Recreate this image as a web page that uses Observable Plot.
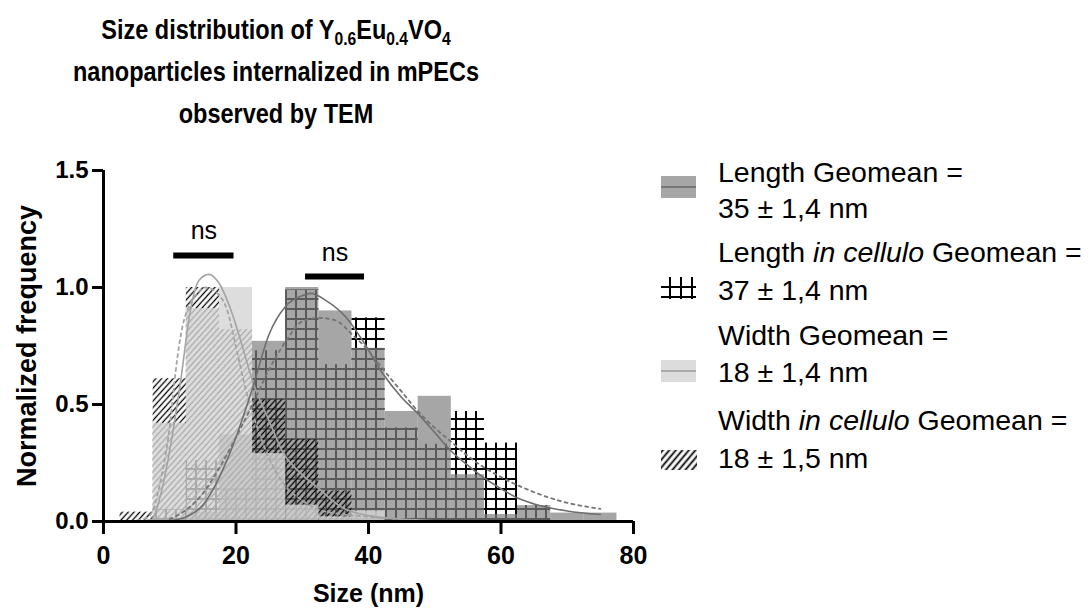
<!DOCTYPE html>
<html><head><meta charset="utf-8">
<script src="https://cdn.jsdelivr.net/npm/d3@7"></script>
<script src="https://cdn.jsdelivr.net/npm/@observablehq/plot@0.6"></script>
<style>
body{margin:0;background:#fff;font-family:"Liberation Sans",Arial,Helvetica,sans-serif;color:#000;}
#wrap{position:relative;width:1091px;height:614px;overflow:hidden;background:#fff;}
#title{position:absolute;left:0;top:9px;width:552px;text-align:center;font-weight:bold;font-size:27px;line-height:42px;transform:scaleX(0.87);transform-origin:276px 0;}
#title sub{font-size:18px;vertical-align:-6px;line-height:0;}
#chart{position:absolute;left:0;top:150px;width:660px;}
.leg{position:absolute;left:718px;font-size:28.5px;line-height:34px;white-space:nowrap;}
#legsw{position:absolute;left:655px;top:160px;}
</style></head><body>
<div id="wrap">
<div id="title">Size distribution of Y<sub>0.6</sub>Eu<sub>0.4</sub>VO<sub>4</sub><br>nanoparticles internalized in mPECs<br>observed by TEM</div>
<div id="chart"></div>
<div id="legend"></div>
<svg id="legsw" width="60" height="330">
  <defs>
    <pattern id="legHatch" patternUnits="userSpaceOnUse" width="5" height="5" patternTransform="rotate(40)"><line x1="2.5" y1="0" x2="2.5" y2="5" stroke="#000" stroke-width="1.8"/></pattern>
  </defs>
  <rect x="6" y="16" width="35" height="22" fill="#a6a6a6"/>
  <line x1="6" x2="41" y1="27" y2="27" stroke="#777" stroke-width="2"/>
  <g stroke="#000" stroke-width="2">
    <line x1="15" x2="15" y1="117" y2="139"/>
    <line x1="26" x2="26" y1="117" y2="139"/>
    <line x1="37" x2="37" y1="117" y2="139"/>
    <line x1="6" x2="41" y1="127" y2="127"/>
    <line x1="6" x2="41" y1="137" y2="137"/>
  </g>
  <rect x="6" y="200" width="35" height="22" fill="#dcdcdc"/>
  <line x1="6" x2="41" y1="211" y2="211" stroke="#aaa" stroke-width="2"/>
  <rect x="6" y="290" width="36" height="20" fill="url(#legHatch)"/>
</svg>
</div>
<script>
// ---- data ----
const sizeBins = [5,10,15,20,25,30,35,40,45,50,55,60,65,70,75];
const binWidth = 5;
const lengthFreq        = [0, 0, 0.04, 0.37, 0.77, 1.0, 0.90, 0.74, 0.47, 0.535, 0.20, 0.03, 0.068, 0.036, 0.036];
const lengthCelluloFreq = [0, 0.05, 0.26, 0.14, 0.73, 0.99, 0.67, 0.87, 0.40, 0.33, 0.47, 0.335, 0.068, 0, 0];
const widthFreq         = [0, 0.42, 0.91, 1.0, 0.29, 0.07, 0.02, 0.045, 0, 0, 0, 0, 0, 0, 0];
const widthCelluloFreq  = [0.04, 0.61, 1.0, 0.82, 0.52, 0.35, 0.13, 0, 0, 0, 0, 0, 0, 0, 0];

const lengthFitX = [10, 12.5, 15, 17.5, 20, 22.5, 25, 27.5, 30, 31.3, 33.6, 36.6, 39.1, 42.2, 45, 47.5, 50, 52.5, 55, 57.5, 60, 62.5, 65, 70, 75];
const lengthFitY = [0.003, 0.02, 0.07, 0.19, 0.36, 0.57, 0.80, 0.92, 0.965, 0.975, 0.944, 0.873, 0.774, 0.63, 0.53, 0.46, 0.38, 0.30, 0.24, 0.185, 0.14, 0.10, 0.075, 0.045, 0.03];
const lengthCelluloFitX = [10, 12.5, 15, 17.5, 20, 22.5, 25, 27.5, 30, 32.5, 35, 37.5, 40, 42.5, 45, 47.5, 50, 52.5, 55, 57.5, 60, 62.5, 65, 67.5, 70, 75];
const lengthCelluloFitY = [0.01, 0.05, 0.12, 0.23, 0.36, 0.50, 0.65, 0.77, 0.855, 0.87, 0.86, 0.80, 0.73, 0.64, 0.555, 0.47, 0.40, 0.34, 0.28, 0.23, 0.19, 0.155, 0.125, 0.10, 0.08, 0.054];
const widthFitX = [5, 7.3, 8.5, 10.1, 11.6, 13.1, 14.4, 15.9, 17.4, 19.4, 21, 22.5, 25, 27, 30, 32.1, 36, 40, 45, 50];
const widthFitY = [0, 0.01, 0.10, 0.32, 0.59, 0.90, 1.03, 1.056, 1.02, 0.89, 0.745, 0.60, 0.43, 0.30, 0.20, 0.15, 0.06, 0.025, 0.01, 0.003];
const widthCelluloFitX = [3, 5, 6.8, 8.8, 10.1, 10.9, 11.9, 12.9, 14, 15.4, 17, 18.7, 20.2, 21.5, 23, 25, 27.5, 30, 32.5, 35, 40, 45];
const widthCelluloFitY = [0, 0.005, 0.02, 0.20, 0.43, 0.645, 0.83, 0.92, 0.97, 1.0, 0.98, 0.90, 0.72, 0.56, 0.42, 0.27, 0.15, 0.09, 0.05, 0.035, 0.02, 0.01];

const nsX1 = [10.6, 30.5];
const nsX2 = [19.7, 39.4];
const nsY  = [1.137, 1.047];
const nsLabels = ["ns", "ns"];

const xTicks = [0, 20, 40, 60, 80];
const yTicks = [0, 0.5, 1.0, 1.5];

const legendLine1 = ["Length Geomean =", "Length <i>in cellulo</i> Geomean =", "Width Geomean =", "Width <i>in cellulo</i> Geomean ="];
const legendLine2 = ["35 ± 1,4 nm", "37 ± 1,4 nm", "18 ± 1,4 nm", "18 ± 1,5 nm"];

// ---- build ----
const bins = sizeBins.map((x, i) => ({x, length: lengthFreq[i], lengthCell: lengthCelluloFreq[i], width: widthFreq[i], widthCell: widthCelluloFreq[i]}));
const half = binWidth / 2;
const bar = (key, opts) => Plot.rectY(bins, {x1: d => d.x - half, x2: d => d.x + half, y: key, ...opts});
const pts = (xs, ys) => xs.map((x, i) => ({x, y: ys[i]}));
const ns = nsX1.map((x1, i) => ({x1, x2: nsX2[i], y: nsY[i], label: nsLabels[i]}));

const plot = Plot.plot({
  width: 660, height: 464,
  marginTop: 20, marginBottom: 93, marginLeft: 103, marginRight: 27,
  x: {domain: [0, 80]},
  y: {domain: [0, 1.5]},
  style: {fontFamily: '"Liberation Sans", Arial, Helvetica, sans-serif', fontSize: "24px", fontWeight: "bold", color: "#000", background: "#fff", overflow: "visible"},
  marks: [
    bar("lengthCell", {fill: "url(#gridPat)"}),
    bar("length", {fill: "#808080", fillOpacity: 0.7}),
    bar("widthCell", {fill: "url(#hatchPat)"}),
    bar("width", {fill: "#d4d4d4", fillOpacity: 0.8}),
    Plot.line(pts(widthFitX, widthFitY), {x: "x", y: "y", stroke: "#a4a4a4", strokeWidth: 1.6, curve: "monotone-x"}),
    Plot.line(pts(widthCelluloFitX, widthCelluloFitY), {x: "x", y: "y", stroke: "#a4a4a4", strokeWidth: 1.8, strokeDasharray: "3,4", curve: "monotone-x"}),
    Plot.line(pts(lengthFitX, lengthFitY), {x: "x", y: "y", stroke: "#6e6e6e", strokeWidth: 1.6, curve: "monotone-x"}),
    Plot.line(pts(lengthCelluloFitX, lengthCelluloFitY), {x: "x", y: "y", stroke: "#747474", strokeWidth: 1.8, strokeDasharray: "3,4", curve: "monotone-x"}),
    Plot.ruleY(ns, {x1: "x1", x2: "x2", y: "y", stroke: "#000", strokeWidth: 6}),
    Plot.text(ns, {x: d => (d.x1 + d.x2) / 2, y: "y", text: "label", dy: -24, fontSize: 25, fontWeight: "normal", fill: "#000"}),
    Plot.axisX({ticks: xTicks, tickSize: 13, tickPadding: 12, strokeWidth: 3, label: null, fontSize: 25, fontWeight: "bold"}),
    Plot.axisY({ticks: yTicks, tickFormat: d3.format(".1f"), tickSize: 11, tickPadding: 4, strokeWidth: 3, label: null, fontSize: 24, fontWeight: "bold"}),
    Plot.ruleX([0], {y1: 0, y2: 1.5, strokeWidth: 3}),
    Plot.ruleY([0], {x1: 0, x2: 80, strokeWidth: 3}),
    Plot.text(["Normalized frequency"], {frameAnchor: "left", textAnchor: "middle", dx: -76, rotate: -90, fontSize: 27, fontWeight: "bold"}),
    Plot.text(["Size (nm)"], {frameAnchor: "bottom", textAnchor: "middle", dy: 80, fontSize: 25, fontWeight: "bold"})
  ]
});

const defs = d3.select(plot).insert("defs", ":first-child");
const g = defs.append("pattern").attr("id", "gridPat").attr("patternUnits", "userSpaceOnUse").attr("width", 10).attr("height", 10).attr("x", 1).attr("y", 4);
g.append("path").attr("d", "M5,0V10M0,5H10").attr("stroke", "#000").attr("stroke-width", 2).attr("fill", "none");
const h = defs.append("pattern").attr("id", "hatchPat").attr("patternUnits", "userSpaceOnUse").attr("width", 4.3).attr("height", 4.3).attr("patternTransform", "rotate(42)");
h.append("line").attr("x1", 2.15).attr("x2", 2.15).attr("y1", 0).attr("y2", 4.3).attr("stroke", "#000").attr("stroke-width", 1.3);

document.getElementById("chart").appendChild(plot);

// legend text
const legendTop1 = [172, 252, 335, 420];
const legendTop2 = [208, 290, 372, 458];
const legend = document.getElementById("legend");
legendLine1.forEach((t, i) => {
  const a = document.createElement("div"); a.className = "leg"; a.style.top = (legendTop1[i] - 17) + "px"; a.innerHTML = t; legend.appendChild(a);
  const b = document.createElement("div"); b.className = "leg"; b.style.top = (legendTop2[i] - 17) + "px"; b.textContent = legendLine2[i]; legend.appendChild(b);
});
</script>
</body></html>
